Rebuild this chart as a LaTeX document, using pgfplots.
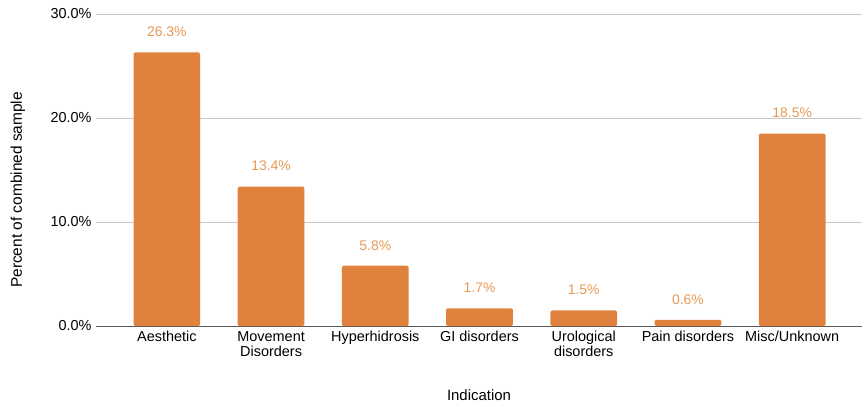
\documentclass[border=0pt]{standalone}
\usepackage{fontspec}
\setmainfont{Liberation Sans}
\usepackage{pgfplots}
\pgfplotsset{compat=1.18}
\definecolor{barc}{HTML}{E0823D}
\definecolor{labc}{HTML}{E69A55}
\begin{document}
\begin{tikzpicture}
\begin{axis}[
  scale only axis,
  width=766bp, height=312bp,
  xmin=-0.68, xmax=6.67,
  ymin=0, ymax=30,
  ybar, bar width=0.64,
  bar shift=0pt,
  xtick={0,1,2,3,4,5,6},
  xticklabels={{Aesthetic},{Movement\\Disorders},{Hyperhidrosis},{GI disorders},{Urological\\disorders},{Pain disorders},{Misc/Unknown}},
  xticklabel style={align=center, font=\fontsize{14.5}{15}\selectfont, yshift=-2bp},
  ytick={0,10,20,30},
  yticklabel={\pgfmathprintnumber[fixed,fixed zerofill,precision=1]{\tick}\%},
  yticklabel style={font=\fontsize{14.5}{15}\selectfont, xshift=-1bp},
  /pgf/number format/assume math mode=true,
  major tick length=0pt,
  ymajorgrids,
  grid style={draw=black!22, line width=0.8bp},
  axis x line*=bottom,
  axis y line*=left,
  x axis line style={draw=black!65, line width=1bp, -},
  y axis line style={draw=none},
  xlabel={Indication},
  ylabel={Percent of combined sample},
  xlabel style={at={(axis description cs:0.5,0)}, anchor=center, yshift=-69bp, font=\fontsize{15}{16}\selectfont},
  ylabel style={at={(axis description cs:0,0.436)}, anchor=center, yshift=78bp, font=\fontsize{15.5}{16}\selectfont},
  nodes near coords={\pgfmathprintnumber[fixed,fixed zerofill,precision=1]{\pgfplotspointmeta}\%},
  nodes near coords style={font=\fontsize{14}{15}\selectfont, text=labc, anchor=south, yshift=12bp},
  every node near coord/.append style={/pgf/number format/assume math mode=true},
  clip=false,
]
\addplot[fill=barc, draw=none, rounded corners=1.5bp] coordinates {
(0,26.3) (1,13.4) (2,5.8) (3,1.7) (4,1.5) (5,0.6) (6,18.5)};
\end{axis}
\pgfresetboundingbox
\path[use as bounding box] ([shift={(-96bp,-81bp)}]current axis.south west) rectangle ([shift={(3bp,14bp)}]current axis.north east);
\end{tikzpicture}
\end{document}
